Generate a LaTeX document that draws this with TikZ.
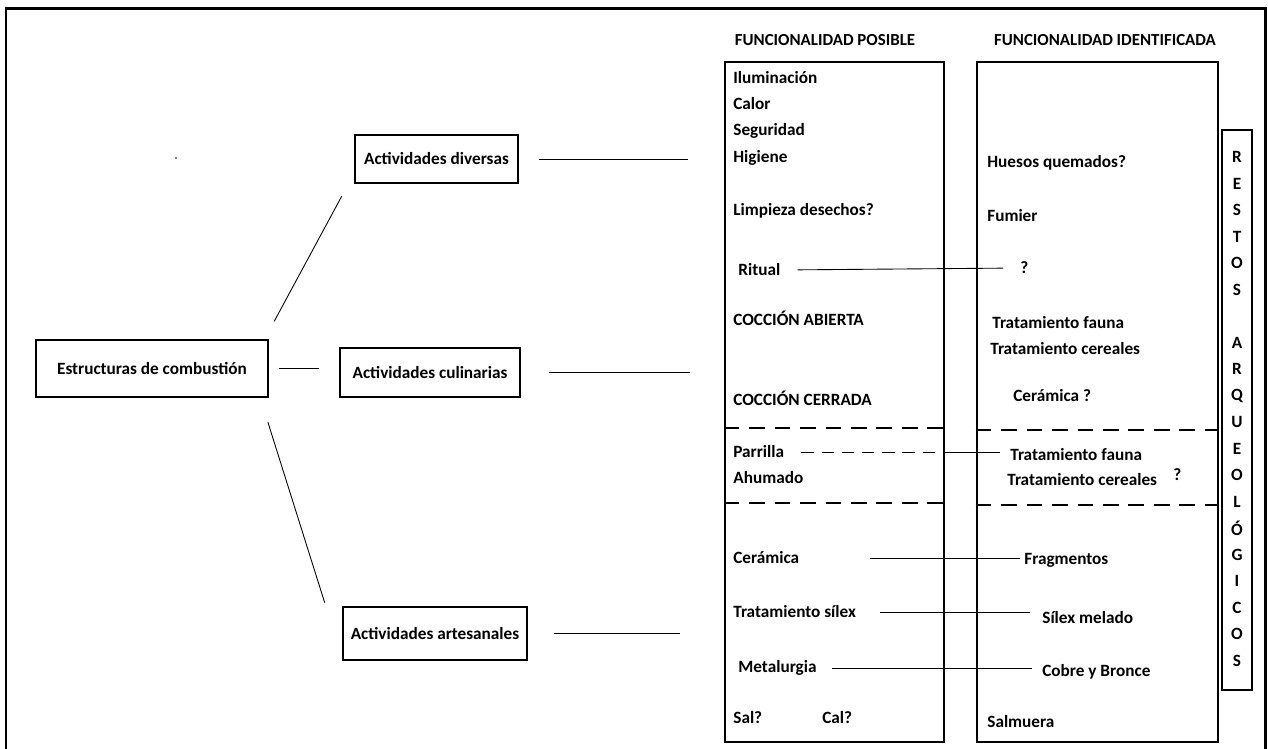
\documentclass[tikz,border=0pt]{standalone}
\usepackage{fontspec}
\setmainfont{Carlito}
\usetikzlibrary{positioning}
\newcommand{\lbl}{\fontsize{9.8}{11}\selectfont\bfseries}
\newcommand{\hdr}{\fontsize{9.6}{11}\selectfont\bfseries}
\tikzset{
  frame/.style={line width=1.7pt},
  actbox/.style={rectangle, draw, line width=1.6pt, font=\lbl, text centered},
  colbox/.style={rectangle, draw, line width=1.6pt, inner sep=0pt},
  item/.style={anchor=west, font=\lbl, inner sep=0pt},
  head/.style={font=\hdr, inner sep=0pt},
  link/.style={line width=0.5pt},
  sep/.style={line width=0.6pt, dash pattern=on 9pt off 5.5pt},
  dlink/.style={line width=0.5pt, dash pattern=on 7pt off 4.5pt}
}

\begin{document}
\begin{tikzpicture}[x=0.02cm, y=-0.02cm]
  \useasboundingbox (0,0) rectangle (1268,749);
  \draw[frame] (6,780) |- (1265,9) -- (1265,780);
  \fill (176,158) circle (0.5pt);

  % activity boxes
  \node[actbox, minimum width=4.64cm, minimum height=1.14cm] (est) at (152,368.5) {Estructuras de combustión};
  \node[actbox, minimum width=3.26cm, minimum height=0.96cm] (div) at (436.5,159) {Actividades diversas};
  \node[actbox, minimum width=3.6cm,  minimum height=0.98cm] (cul) at (430,372.5) {Actividades culinarias};
  \node[actbox, minimum width=3.68cm, minimum height=1.06cm] (art) at (435,633.5) {Actividades artesanales};

  % columns
  \node[head] (hpos) at (825,40) {FUNCIONALIDAD POSIBLE};
  \node[head] (hid)  at (1105,40) {FUNCIONALIDAD IDENTIFICADA};
  \node[colbox, minimum width=4.38cm, minimum height=13.6cm] (pos) at (834.5,402) {};
  \node[colbox, minimum width=4.82cm, minimum height=13.6cm] (ide) at (1097.5,402) {};
  \node[colbox, minimum width=0.6cm,  minimum height=11.2cm] (res) at (1237,410) {};

  \draw[sep] (pos.west |- 0,428) -- (pos.east |- 0,428);
  \draw[sep] (pos.west |- 0,503) -- (pos.east |- 0,503);
  \draw[sep] (ide.west |- 0,430) -- (ide.east |- 0,430);
  \draw[sep] (ide.west |- 0,505) -- (ide.east |- 0,505);

  % possible functions
  \node[item] (ilu)  at (733,78)  {Iluminación};
  \node[item] (cal)  at (733,104) {Calor};
  \node[item] (seg)  at (733,131) {Seguridad};
  \node[item] (hig)  at (733,158) {Higiene};
  \node[item] (lim)  at (733,211) {Limpieza desechos?};
  \node[item] (rit)  at (738,270) {Ritual};
  \node[item] (cab)  at (733,318) {COCCIÓN ABIERTA};
  \node[item] (cce)  at (733,398) {COCCIÓN CERRADA};
  \node[item] (par)  at (733,452) {Parrilla};
  \node[item] (ahu)  at (733,478) {Ahumado};
  \node[item] (cer)  at (733,558) {Cerámica};
  \node[item] (sil)  at (733,612) {Tratamiento sílex};
  \node[item] (met)  at (738,668) {Metalurgia};
  \node[item] (sal)  at (733,718) {Sal?};
  \node[item] (calq) at (822,718) {Cal?};

  % identified functions
  \node[item] (hue)  at (987,163)  {Huesos quemados?};
  \node[item] (fum)  at (987,216)  {Fumier};
  \node[item] (ritq) at (1020,268) {?};
  \node[item] (tfa)  at (992,323)  {Tratamiento fauna};
  \node[item] (tce)  at (990,349)  {Tratamiento cereales};
  \node[item] (ceq)  at (1013,396) {Cerámica ?};
  \node[item] (tfb)  at (1010,455) {Tratamiento fauna};
  \node[item] (tcb)  at (1007,480) {Tratamiento cereales};
  \node[item] (tq)   at (1173,475) {?};
  \node[item] (fra)  at (1024,560) {Fragmentos};
  \node[item] (sme)  at (1042,618) {Sílex melado};
  \node[item] (cob)  at (1042,672) {Cobre y Bronce};
  \node[item] (slm)  at (987,722)  {Salmuera};

  % restos arqueologicos
  \foreach \ch [count=\k from 0] in {R,E,S,T,O,S,{},A,R,Q,U,E,O,L,Ó,G,I,C,O,S}
    \node[head, font=\lbl] (r\k) at (1237,157+26.5*\k) {\ch};

  % tree
  \draw[link, shorten <=0.39cm, shorten >=0.27cm]
    ([xshift=-0.09cm]est.north east) -- ([xshift=-0.11cm]div.south west);
  \draw[link, shorten <=0.5cm, shorten >=0.06cm]
    ([xshift=-0.18cm]est.south east) -- ([xshift=-0.32cm]art.north west);
  \draw[link, shorten <=0.2cm, shorten >=0.4cm]   (est.east) -- (est.east -| cul.west);
  \draw[link, shorten <=0.4cm, shorten >=0.72cm]  (div.east) -- (div.east -| pos.west);
  \draw[link, shorten <=0.56cm, shorten >=0.68cm] (cul.east) -- (cul.east -| pos.west);
  \draw[link, shorten <=0.52cm, shorten >=0.88cm] (art.east) -- (art.east -| pos.west);

  % links between columns
  \draw[link, shorten <=0.34cm, shorten >=0.34cm] (rit.east) -- (ritq.west);
  \draw[dlink, shorten <=0.34cm] (par.east) -- (par.east -| pos.east);
  \draw[link, shorten >=0.2cm] (par.east -| pos.east) -- (par.east -| tfb.west);
  \draw[link, shorten <=1.4cm, shorten >=0.08cm]  (cer.east) -- (cer.east -| fra.west);
  \draw[link, shorten <=0.48cm, shorten >=0.24cm] (sil.east) -- (sil.east -| sme.west);
  \draw[link, shorten <=0.3cm, shorten >=0.2cm]   (met.east) -- (met.east -| cob.west);
\end{tikzpicture}
\end{document}
